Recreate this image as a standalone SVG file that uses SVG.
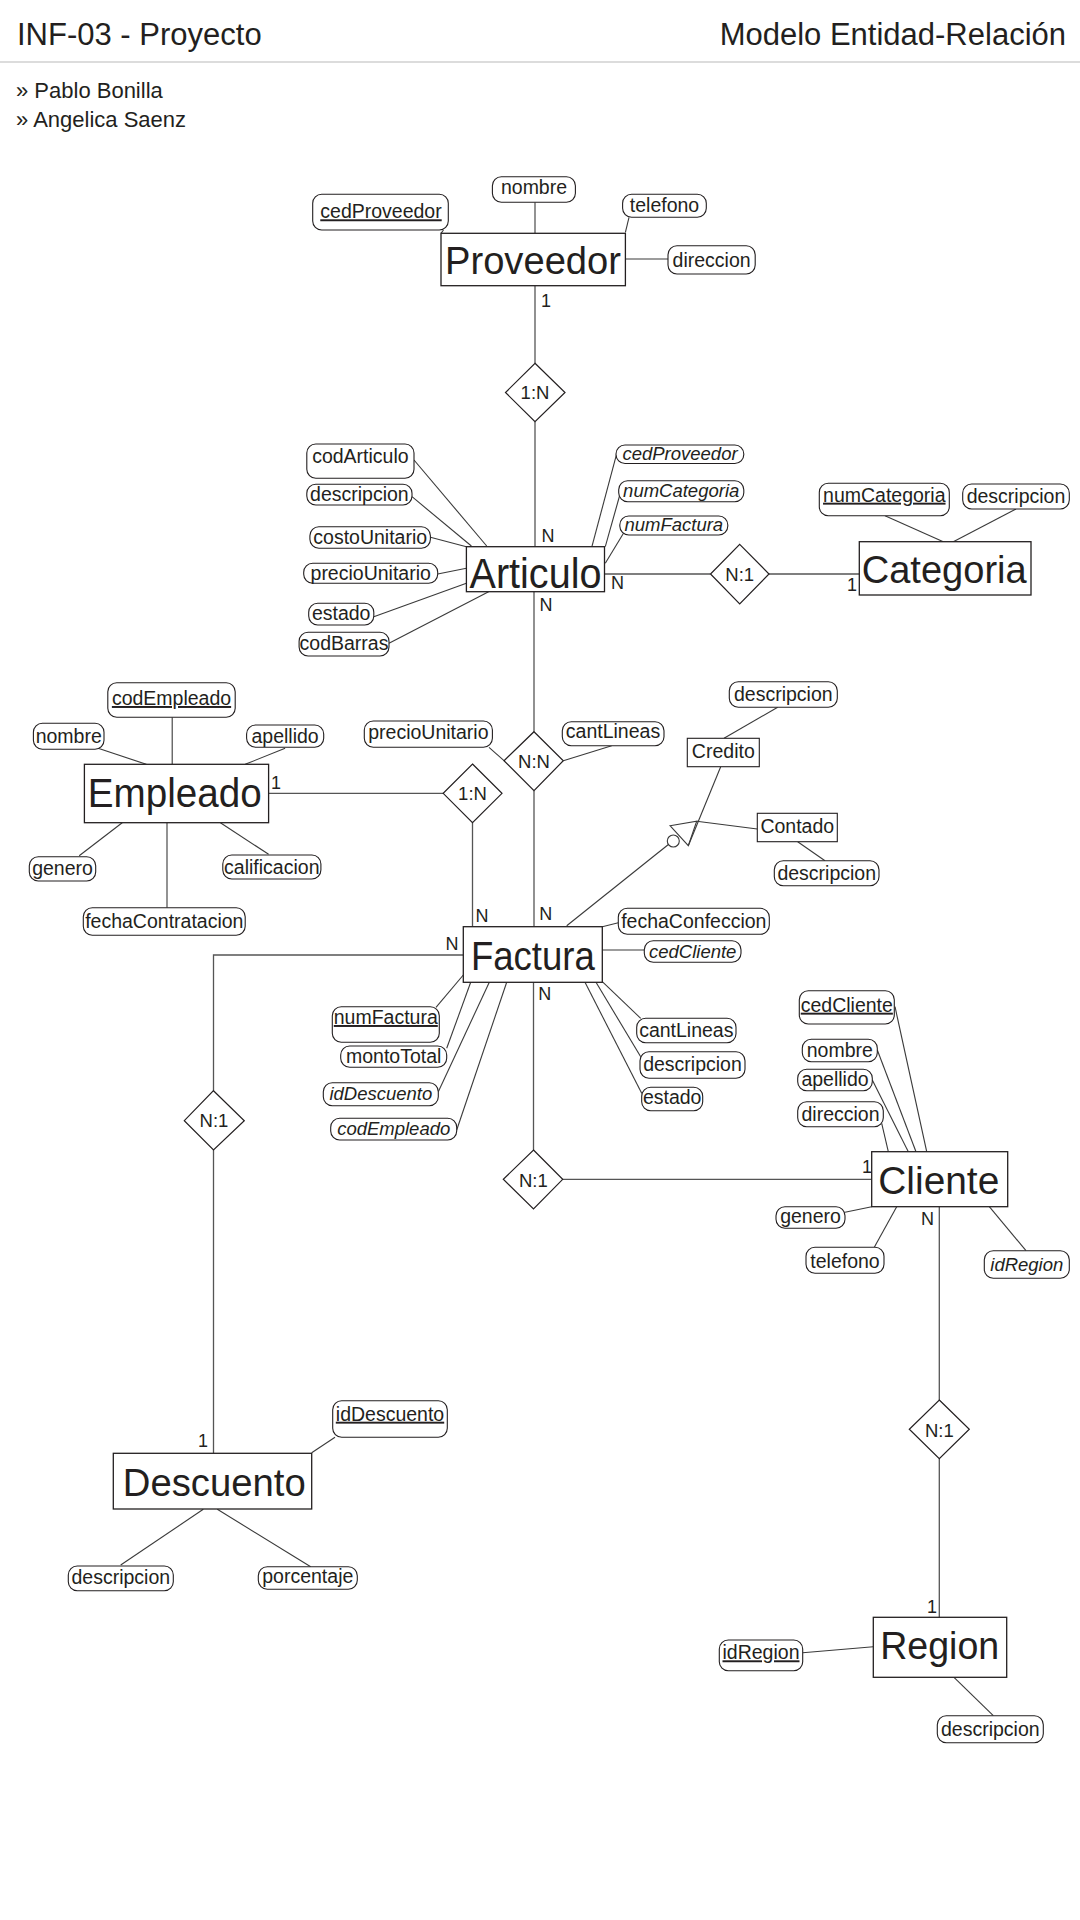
<svg xmlns="http://www.w3.org/2000/svg" width="1080" height="1920" viewBox="0 0 1080 1920">
<style>
text{font-family:"Liberation Sans",Arial,sans-serif;fill:#231f20}
.hdr{font-size:31px}
.auth{font-size:22px}
.ent rect{fill:#fff;stroke:#231f20;stroke-width:1.3}
.ent text{text-anchor:middle}
.att rect{fill:#fff;stroke:#231f20;stroke-width:1.1}
.att text{font-size:19.5px;text-anchor:middle}
.att text.it{font-style:italic;font-size:18.5px}
.att text.pk{text-decoration:underline}
.sub rect{fill:#fff;stroke:#231f20;stroke-width:1.1}
.sub text{font-size:19.5px;text-anchor:middle}
.rel polygon{fill:#fff;stroke:#231f20;stroke-width:1.2}
.rel text{font-size:18.5px;text-anchor:middle}
.card{font-size:18px}
#connectors line,#connectors polyline{stroke:#3a3a3a;stroke-width:1.1;fill:none}
#connectors .rl{stroke:#555;stroke-width:1.3}
</style>
<rect x="0" y="0" width="1080" height="1920" fill="#fff"/>
<g id="header">
<text class="hdr" x="17" y="45" font-size="30">INF-03 - Proyecto</text>
<text class="hdr" x="1066" y="45" text-anchor="end">Modelo Entidad-Relación</text>
<line x1="0" y1="62" x2="1080" y2="62" stroke="#dcdcdc" stroke-width="2.2"/>
<text class="auth" x="16" y="98">» Pablo Bonilla</text>
<text class="auth" x="16" y="127">» Angelica Saenz</text>
</g>
<g id="connectors">
<line class="rl" x1="535" y1="285.7" x2="535" y2="363.3"/>
<line class="rl" x1="535" y1="421.7" x2="535" y2="546.7"/>
<line class="rl" x1="604.5" y1="574" x2="710.5" y2="574"/>
<line class="rl" x1="769" y1="574" x2="859.3" y2="574"/>
<line class="rl" x1="534" y1="591.7" x2="534" y2="731.7"/>
<line class="rl" x1="534" y1="790.7" x2="534" y2="926.7"/>
<line class="rl" x1="268.6" y1="793.3" x2="443.2" y2="793.3"/>
<line class="rl" x1="472.5" y1="822.7" x2="472.5" y2="926.7"/>
<polyline class="rl" points="463.3,955 213.5,955 213.5,1090.7"/>
<line class="rl" x1="213.5" y1="1150" x2="213.5" y2="1453.3"/>
<line class="rl" x1="533.5" y1="982.3" x2="533.5" y2="1150"/>
<line class="rl" x1="562.7" y1="1179.3" x2="871.7" y2="1179.3"/>
<line class="rl" x1="939.3" y1="1206.7" x2="939.3" y2="1400"/>
<line class="rl" x1="939.3" y1="1458.7" x2="939.3" y2="1617.3"/>
<line x1="566.7" y1="925.7" x2="668.7" y2="844.3"/>
<line x1="720.7" y1="766.7" x2="688.3" y2="845.7"/>
<line x1="757.3" y1="829" x2="696.7" y2="821.3"/>
<polygon points="670,825.7 696.7,821.3 688.3,845.7" fill="none" stroke="#3a3a3a" stroke-width="1.1"/>
<circle cx="673.3" cy="841" r="6" fill="#fff" stroke="#3a3a3a" stroke-width="1.1"/>
<line x1="443.5" y1="230" x2="441" y2="233.3"/>
<line x1="535" y1="202.3" x2="535" y2="233.3"/>
<line x1="629" y1="217.3" x2="625.4" y2="232.3"/>
<line x1="625.4" y1="259" x2="668" y2="259"/>
<line x1="414" y1="460" x2="486.7" y2="546"/>
<line x1="412" y1="496.7" x2="471.4" y2="546"/>
<line x1="430.4" y1="537.3" x2="466.4" y2="546.7"/>
<line x1="437.7" y1="574" x2="466.4" y2="568.3"/>
<line x1="373.8" y1="616.7" x2="466.4" y2="583.3"/>
<line x1="389" y1="643.3" x2="488.6" y2="591.7"/>
<line x1="616.8" y1="453.3" x2="591.9" y2="546.7"/>
<line x1="619.8" y1="495" x2="605.3" y2="546.7"/>
<line x1="624.4" y1="531.7" x2="605.3" y2="563.3"/>
<line x1="885" y1="515.7" x2="943.3" y2="541.7"/>
<line x1="1016" y1="509" x2="953.3" y2="541.7"/>
<line x1="98.1" y1="748.3" x2="146.3" y2="764.3"/>
<line x1="172.2" y1="717.3" x2="172.2" y2="764.3"/>
<line x1="285.1" y1="748.3" x2="245.2" y2="764.3"/>
<line x1="79.2" y1="855.7" x2="122.2" y2="822.7"/>
<line x1="167" y1="822.7" x2="167" y2="907.7"/>
<line x1="268.6" y1="854.3" x2="220.4" y2="822.7"/>
<line x1="489" y1="747.3" x2="504" y2="760.7"/>
<line x1="611.7" y1="745.7" x2="563.3" y2="760.7"/>
<line x1="777.7" y1="707.3" x2="724" y2="738.3"/>
<line x1="797.7" y1="841.7" x2="825" y2="860.7"/>
<line x1="602.3" y1="926.7" x2="618.3" y2="922.7"/>
<line x1="602.3" y1="950" x2="644.3" y2="950"/>
<line x1="436" y1="1007.3" x2="463.3" y2="975"/>
<line x1="446.7" y1="1048.3" x2="470.7" y2="982.3"/>
<line x1="438.3" y1="1091.7" x2="489.3" y2="982.3"/>
<line x1="456.7" y1="1130" x2="506.7" y2="982.3"/>
<line x1="640.7" y1="1018.3" x2="602.3" y2="981.7"/>
<line x1="640.7" y1="1056.7" x2="596" y2="982.3"/>
<line x1="641.7" y1="1093.3" x2="585" y2="982.3"/>
<line x1="895" y1="1006.7" x2="926.7" y2="1151.7"/>
<line x1="877.3" y1="1050" x2="916" y2="1151.7"/>
<line x1="872.3" y1="1080" x2="908.3" y2="1151.7"/>
<line x1="881.7" y1="1123.3" x2="888.3" y2="1151.7"/>
<line x1="845" y1="1212.3" x2="871.7" y2="1206.7"/>
<line x1="874.3" y1="1247.3" x2="896.7" y2="1206.7"/>
<line x1="1026" y1="1250.7" x2="989.3" y2="1206.7"/>
<line x1="802.7" y1="1652.7" x2="873.3" y2="1646.7"/>
<line x1="954" y1="1677.3" x2="993.3" y2="1715.7"/>
<line x1="335" y1="1437.3" x2="311.7" y2="1452.7"/>
<line x1="120.7" y1="1565" x2="203.3" y2="1509.3"/>
<line x1="310.7" y1="1566.7" x2="217.3" y2="1509.3"/>
</g>
<g id="cardinalities" class="card">
<text class="card" x="541" y="306.7">1</text>
<text class="card" x="541.5" y="541.7">N</text>
<text class="card" x="611" y="589">N</text>
<text class="card" x="539.5" y="611">N</text>
<text class="card" x="847" y="590.7">1</text>
<text class="card" x="271" y="789.3">1</text>
<text class="card" x="475.5" y="921.7">N</text>
<text class="card" x="539.3" y="920">N</text>
<text class="card" x="445.5" y="950">N</text>
<text class="card" x="538.3" y="1000">N</text>
<text class="card" x="862" y="1173.3">1</text>
<text class="card" x="921" y="1225">N</text>
<text class="card" x="927" y="1612.7">1</text>
<text class="card" x="198" y="1446.7">1</text>
</g>
<g id="proveedor" class="ent"><rect x="441" y="233.3" width="184.4" height="52.4"/><text x="533" y="274" font-size="38" textLength="176" lengthAdjust="spacingAndGlyphs">Proveedor</text></g>
<g id="proveedor-cedProveedor" class="att"><rect x="312.7" y="194.3" width="135.6" height="35.7" rx="9"/><text class="pk" x="381" y="218.3">cedProveedor</text></g>
<g id="proveedor-nombre" class="att"><rect x="492.4" y="176.7" width="83" height="25.6" rx="9"/><text x="534" y="194">nombre</text></g>
<g id="proveedor-telefono" class="att"><rect x="622.6" y="194.3" width="83.7" height="23" rx="9"/><text x="664.5" y="211.5">telefono</text></g>
<g id="proveedor-direccion" class="att"><rect x="668" y="245.7" width="87.2" height="28.3" rx="9"/><text x="711.6" y="267">direccion</text></g>
<g id="rel-prov-art" class="rel"><polygon points="535,363.3 565,392.5 535,421.7 505.5,392.5"/><text x="535" y="399">1:N</text></g>
<g id="articulo" class="ent"><rect x="466.4" y="546.7" width="138.1" height="45"/><text x="535.5" y="587.5" font-size="42" textLength="132" lengthAdjust="spacingAndGlyphs">Articulo</text></g>
<g id="articulo-codArticulo" class="att"><rect x="306.8" y="444" width="107.2" height="34.3" rx="9"/><text x="360.4" y="463.3">codArticulo</text></g>
<g id="articulo-descripcion" class="att"><rect x="306.8" y="484.3" width="105.2" height="20.7" rx="9"/><text x="359.4" y="501">descripcion</text></g>
<g id="articulo-costoUnitario" class="att"><rect x="309.9" y="526.7" width="120.5" height="21.6" rx="9"/><text x="370.2" y="543.5">costoUnitario</text></g>
<g id="articulo-precioUnitario" class="att"><rect x="303.7" y="563.3" width="134" height="20" rx="9"/><text x="370.7" y="579.5">precioUnitario</text></g>
<g id="articulo-estado" class="att"><rect x="308.7" y="603.3" width="65.1" height="21.7" rx="9"/><text x="341.2" y="620">estado</text></g>
<g id="articulo-codBarras" class="att"><rect x="299.1" y="632.3" width="89.9" height="23.7" rx="9"/><text x="344" y="650">codBarras</text></g>
<g id="articulo-cedProveedor" class="att"><rect x="616" y="445" width="127.8" height="18.5" rx="9"/><text class="it" x="680" y="460">cedProveedor</text></g>
<g id="articulo-numCategoria" class="att"><rect x="618.7" y="480.7" width="125.1" height="21" rx="9"/><text class="it" x="681.2" y="497">numCategoria</text></g>
<g id="articulo-numFactura" class="att"><rect x="619.8" y="516" width="108" height="19" rx="9"/><text class="it" x="673.8" y="531">numFactura</text></g>
<g id="rel-art-cat" class="rel"><polygon points="739.7,544.3 769,574 739.7,604 710.5,574"/><text x="739.7" y="581">N:1</text></g>
<g id="categoria" class="ent"><rect x="859.3" y="541.7" width="171.7" height="53.3"/><text x="944.2" y="582.7" font-size="38" textLength="165" lengthAdjust="spacingAndGlyphs">Categoria</text></g>
<g id="categoria-numCategoria" class="att"><rect x="819.3" y="483.3" width="130" height="32.4" rx="9"/><text class="pk" x="884.3" y="501.7">numCategoria</text></g>
<g id="categoria-descripcion" class="att"><rect x="962.7" y="484" width="106.6" height="25" rx="9"/><text x="1016" y="503">descripcion</text></g>
<g id="empleado" class="ent"><rect x="84.4" y="764.3" width="184.2" height="58.4"/><text x="174.8" y="807.3" font-size="40" textLength="174" lengthAdjust="spacingAndGlyphs">Empleado</text></g>
<g id="empleado-codEmpleado" class="att"><rect x="107.8" y="682.7" width="127.4" height="34.6" rx="9"/><text class="pk" x="171.5" y="705">codEmpleado</text></g>
<g id="empleado-nombre" class="att"><rect x="33.4" y="723.3" width="70.6" height="26" rx="9"/><text x="68.7" y="742.7">nombre</text></g>
<g id="empleado-apellido" class="att"><rect x="246.6" y="725" width="77.1" height="22.3" rx="9"/><text x="285.1" y="742.5">apellido</text></g>
<g id="empleado-genero" class="att"><rect x="29.3" y="856.7" width="66.4" height="24.3" rx="9"/><text x="62.5" y="874.5">genero</text></g>
<g id="empleado-calificacion" class="att"><rect x="222.8" y="855" width="98.1" height="24" rx="9"/><text x="271.8" y="873.5">calificacion</text></g>
<g id="empleado-fechaContratacion" class="att"><rect x="83.3" y="907.7" width="161.9" height="27.6" rx="9"/><text x="164.3" y="928">fechaContratacion</text></g>
<g id="rel-emp-fac" class="rel"><polygon points="472.5,764 502,793.3 472.5,822.7 443.2,793.3"/><text x="472.5" y="800">1:N</text></g>
<g id="rel-art-fac" class="rel"><polygon points="534,731.7 563.3,760.7 534,790.7 504,760.7"/><text x="534" y="768">N:N</text></g>
<g id="detalle-precioUnitario" class="att"><rect x="364.3" y="721" width="128.1" height="26.3" rx="9"/><text x="428.4" y="739.3">precioUnitario</text></g>
<g id="detalle-cantLineas" class="att"><rect x="562.3" y="721.7" width="101.7" height="24" rx="9"/><text x="613" y="738.3">cantLineas</text></g>
<g id="credito" class="sub"><rect x="687.3" y="738.3" width="72" height="28.4"/><text x="723.3" y="758.3">Credito</text></g>
<g id="credito-descripcion" class="att"><rect x="729.3" y="681.7" width="108" height="25.6" rx="9"/><text x="783.3" y="700.5">descripcion</text></g>
<g id="contado" class="sub"><rect x="757.3" y="813.3" width="80" height="28.4"/><text x="797.3" y="833.3">Contado</text></g>
<g id="contado-descripcion" class="att"><rect x="774.3" y="860.7" width="104.7" height="25" rx="9"/><text x="826.7" y="879.5">descripcion</text></g>
<g id="factura" class="ent"><rect x="463.3" y="926.7" width="139" height="55.6"/><text x="532.9" y="970" font-size="40" textLength="124" lengthAdjust="spacingAndGlyphs">Factura</text></g>
<g id="factura-fechaConfeccion" class="att"><rect x="618.3" y="908.3" width="151" height="26" rx="9"/><text x="693.8" y="928">fechaConfeccion</text></g>
<g id="factura-cedCliente" class="att"><rect x="644.3" y="940.7" width="96.7" height="21.6" rx="9"/><text class="it" x="692.7" y="958">cedCliente</text></g>
<g id="factura-numFactura" class="att"><rect x="332.3" y="1006.7" width="107" height="35.6" rx="9"/><text class="pk" x="385.8" y="1024">numFactura</text></g>
<g id="factura-montoTotal" class="att"><rect x="340.7" y="1046" width="106" height="21.3" rx="9"/><text x="393.7" y="1063">montoTotal</text></g>
<g id="factura-idDescuento" class="att"><rect x="323.3" y="1082.7" width="115" height="23" rx="9"/><text class="it" x="380.8" y="1100">idDescuento</text></g>
<g id="factura-codEmpleado" class="att"><rect x="330.7" y="1118.3" width="126" height="21.7" rx="9"/><text class="it" x="393.7" y="1135">codEmpleado</text></g>
<g id="factura-cantLineas" class="att"><rect x="636.7" y="1018.3" width="99.3" height="24.4" rx="9"/><text x="686.3" y="1036.5">cantLineas</text></g>
<g id="factura-descripcion" class="att"><rect x="640" y="1051.7" width="105" height="26.6" rx="9"/><text x="692.5" y="1071.3">descripcion</text></g>
<g id="factura-estado" class="att"><rect x="641.7" y="1087.3" width="61" height="23.4" rx="9"/><text x="672.2" y="1104">estado</text></g>
<g id="rel-fac-cli" class="rel"><polygon points="533.5,1150 562.7,1179.3 533.5,1209 503.3,1179.3"/><text x="533.3" y="1186.5">N:1</text></g>
<g id="cliente" class="ent"><rect x="871.7" y="1151.7" width="136" height="55"/><text x="938.8" y="1194.3" font-size="39" textLength="121" lengthAdjust="spacingAndGlyphs">Cliente</text></g>
<g id="cliente-cedCliente" class="att"><rect x="799.3" y="990.7" width="95" height="33.3" rx="9"/><text class="pk" x="846.8" y="1011.7">cedCliente</text></g>
<g id="cliente-nombre" class="att"><rect x="802.3" y="1039.3" width="75" height="22.4" rx="9"/><text x="839.8" y="1056.5">nombre</text></g>
<g id="cliente-apellido" class="att"><rect x="797.7" y="1069.3" width="74.6" height="21.4" rx="9"/><text x="835" y="1086">apellido</text></g>
<g id="cliente-direccion" class="att"><rect x="797.7" y="1101.7" width="85.6" height="25" rx="9"/><text x="840.5" y="1121.3">direccion</text></g>
<g id="cliente-genero" class="att"><rect x="776" y="1206.7" width="69" height="21.6" rx="9"/><text x="810.5" y="1222.7">genero</text></g>
<g id="cliente-telefono" class="att"><rect x="806" y="1247.3" width="78" height="26" rx="9"/><text x="845" y="1268">telefono</text></g>
<g id="cliente-idRegion" class="att"><rect x="984.3" y="1250.7" width="85" height="27.6" rx="9"/><text class="it" x="1026.8" y="1270.5">idRegion</text></g>
<g id="rel-cli-reg" class="rel"><polygon points="939.3,1400 969.3,1429.3 939.3,1458.7 909.3,1429.3"/><text x="939.3" y="1436.5">N:1</text></g>
<g id="region" class="ent"><rect x="873.3" y="1617.3" width="133.4" height="60"/><text x="939.7" y="1659.3" font-size="38" textLength="119" lengthAdjust="spacingAndGlyphs">Region</text></g>
<g id="region-idRegion" class="att"><rect x="719.3" y="1640" width="83.4" height="30.7" rx="9"/><text class="pk" x="761" y="1659.3">idRegion</text></g>
<g id="region-descripcion" class="att"><rect x="937.3" y="1715.7" width="106" height="27" rx="9"/><text x="990.3" y="1736">descripcion</text></g>
<g id="rel-fac-desc" class="rel"><polygon points="213.5,1090.7 244.3,1120.7 213.5,1150 184.3,1120.7"/><text x="214" y="1126.7">N:1</text></g>
<g id="descuento" class="ent"><rect x="113.3" y="1453.3" width="198.4" height="55.7"/><text x="214.3" y="1495.7" font-size="39" textLength="183" lengthAdjust="spacingAndGlyphs">Descuento</text></g>
<g id="descuento-idDescuento" class="att"><rect x="332.7" y="1400.7" width="114.6" height="36.6" rx="9"/><text class="pk" x="390" y="1420.7">idDescuento</text></g>
<g id="descuento-descripcion" class="att"><rect x="68.3" y="1566" width="105" height="24.7" rx="9"/><text x="120.8" y="1584">descripcion</text></g>
<g id="descuento-porcentaje" class="att"><rect x="258.3" y="1566.7" width="99" height="22.6" rx="9"/><text x="307.8" y="1583.3">porcentaje</text></g>
</svg>
